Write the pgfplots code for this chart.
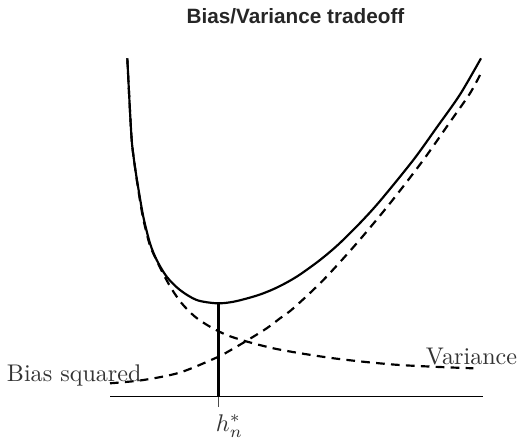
\documentclass[border=0pt]{standalone}
\usepackage{fontspec}
\usepackage{pgfplots}
\pgfplotsset{compat=1.18}
\newfontfamily\titlefont{Liberation Sans}

% all coordinates are in pixels of the 518x443 reference, y counted upwards
\begin{document}
\begin{tikzpicture}
\begin{axis}[
x=0.415pt,y=0.415pt,
xmin=0,xmax=518,ymin=0,ymax=443,
hide axis,clip=false,
every axis plot/.append style={no marks,black}
]
% baseline and tick
\addplot[line width=0.6pt] coordinates {(110,46.3) (483,46.3)};
\addplot[line width=0.5pt,black!70] coordinates {(218.5,36) (218.5,46.3)};
\addplot[line width=0.9pt] coordinates {(218.5,46.3) (218.5,139.7)};

% total error
\addplot[line width=0.9pt,smooth] coordinates {
(127.3,384.7) (129.4,343) (131.7,303) (134,283) (137.5,259.7)
(143.3,226.3) (150,199.7) (156.7,183) (166.7,166.3) (180,153)
(196.7,143) (216.7,139.7) (232,141) (246.7,144.5) (260,148.5)
(273.3,153.8) (286.7,160.5) (300,168.5) (320,183) (338.3,198.5)
(360,220) (380,242) (413.3,283) (436.7,315.5) (460,348.5) (481,384.7)};

% decreasing dashed curve
\addplot[line width=0.9pt,smooth,dash pattern=on 3.6pt off 2.6pt] coordinates {
(127.3,384.7) (129.4,343) (131.7,303) (134,283) (137.3,259.7)
(142.8,226.3) (149.5,199) (155,186) (163.3,169) (171.7,154)
(181.7,139.7) (195,126.3) (210,116.3) (226.7,108) (246.7,101.5)
(273.3,94.7) (300,89.8) (333,84.8) (366,81) (400,78) (440,76) (473.3,74.7)};

% increasing dashed curve
\addplot[line width=0.9pt,smooth,dash pattern=on 3.6pt off 2.6pt] coordinates {
(110,59.7) (143.3,63) (180,70.5) (216.7,85.5) (230,92.5)
(246.7,102.3) (266.7,114.7) (280,124.7) (293.3,134.7) (323.3,163)
(356.7,199.7) (390,239.7) (423.3,283) (450,321) (470,349.7) (481.7,371.3)};

\node[anchor=base,inner sep=0pt,font=\titlefont\bfseries\fontsize{8.6}{10}\selectfont,text=black!85]
  at (axis cs:295.5,419.7) {Bias/Variance tradeoff};
\node[anchor=base east,inner sep=0pt,text=black!80] at (axis cs:142,61.3) {Bias squared};
\node[anchor=base west,inner sep=0pt,text=black!80] at (axis cs:425.5,78.7) {Variance};
\node[anchor=base west,inner sep=0pt,text=black!80] at (axis cs:215.5,11.3) {$h_n^*$};
\end{axis}
\path (current axis.south west) rectangle (current axis.north east);
\end{tikzpicture}
\end{document}
